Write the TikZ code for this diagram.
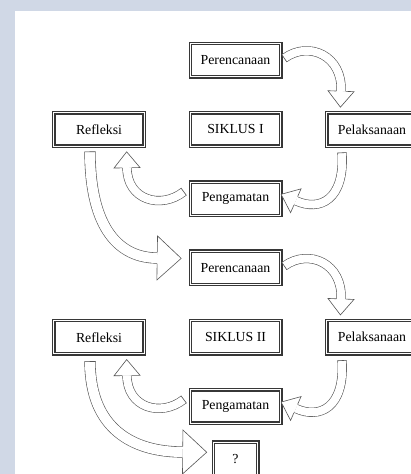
\documentclass[tikz,border=0pt]{standalone}
\usepackage{fontspec}
\setmainfont{Liberation Serif}
\usetikzlibrary{calc}

\definecolor{bgblue}{RGB}{208,216,230}
\definecolor{boxline}{RGB}{55,55,55}
\definecolor{arrline}{RGB}{85,85,85}

% #1 end point, #2 point just before it, #3 half shaft, #4 half head, #5 head length
\newcommand{\flowhead}[5]{%
    \filldraw[fill=white,draw=arrline,line width=0.6pt] ($(#1)!#3!90:(#2)$) -- ($(#1)!#4!90:(#2)$)
        -- ($(#1)!-#5!(#2)$) -- ($(#1)!#4!-90:(#2)$) -- ($(#1)!#3!-90:(#2)$);}
% #1 start point, #2 point just after it, #3 half shaft
\newcommand{\flowtail}[3]{%
    \draw[arrline,line width=0.6pt] ($(#1)!#3!90:(#2)$) -- ($(#1)!#3!-90:(#2)$);}

\begin{document}
\begin{tikzpicture}[x=1pt,y=1pt]
            \tikzset{Box/.style={%
                shape=rectangle,%
                draw=boxline,%
                double,%
                double distance=1.1pt,%
                line width=1.3pt,%
                minimum width=90.3pt,%
                minimum height=33.3pt,%
                inner sep=0pt,%
                font=\fontsize{13.8}{16}\selectfont,%
                node distance=69.25pt,%
            }}
            \tikzset{Flow/.style={%
                draw=arrline,%
                line width=0.6pt,%
                double=white,%
                double distance=8pt,%
            }}
            \tikzset{BigFlow/.style={%
                Flow,%
                double distance=10pt,%
            }}

            % page and background
            \clip (0,0) rectangle (411,474);
            \fill[bgblue] (0,0) rectangle (411,474);
            \fill[white] (15,0) rectangle (411,463);

            % siklus I
            \node[Box] (sik1) at (235.5,344.5) {SIKLUS I};
            \node[Box, above of=sik1] (ren1) {Perencanaan};
            \node[Box, left of=sik1, node distance=136.5pt] (ref1) {Refleksi};
            \node[Box, right of=sik1, node distance=136.5pt] (lak1) {Pelaksanaan};
            \node[Box, below of=sik1] (amt1) {Pengamatan};

            % siklus II
            \node[Box, below of=amt1] (ren2) {Perencanaan};
            \node[Box, below of=ren2] (sik2) {SIKLUS II};
            \node[Box, left of=sik2, node distance=136.5pt] (ref2) {Refleksi};
            \node[Box, right of=sik2, node distance=136.5pt] (lak2) {Pelaksanaan};
            \node[Box, below of=sik2] (amt2) {Pengamatan};
            \node[Box, below of=amt2, node distance=52.5pt, minimum width=44.3pt] (next) {?};

            % arrows of siklus I
            \draw[Flow] ([xshift=3pt,yshift=2pt]ren1.east) .. controls +(25pt,18pt) and +(2pt,35pt) .. ([xshift=-31pt,yshift=21pt]lak1.north)
                coordinate[pos=0] (f1s) coordinate[pos=0.02] (f1t) coordinate[pos=0.98] (f1u) coordinate[pos=1] (f1e);
            \draw[Flow] ([xshift=-30pt,yshift=-6pt]lak1.south) .. controls +(3pt,-47pt) and +(24pt,-11pt) .. ([xshift=14.5pt,yshift=-2pt]amt1.east)
                coordinate[pos=0] (f2s) coordinate[pos=0.02] (f2t) coordinate[pos=0.98] (f2u) coordinate[pos=1] (f2e);
            \draw[Flow] ([xshift=-6pt,yshift=7pt]amt1.west) .. controls +(-23pt,-18pt) and +(0pt,-32pt) .. ([xshift=28pt,yshift=-21pt]ref1.south)
                coordinate[pos=0] (f3s) coordinate[pos=0.02] (f3t) coordinate[pos=0.98] (f3u) coordinate[pos=1] (f3e);
            \draw[BigFlow] ([xshift=-9pt,yshift=-5pt]ref1.south) .. controls +(0pt,-78pt) and +(-37pt,0pt) .. ([xshift=-32.5pt,yshift=10pt]ren2.west)
                coordinate[pos=0] (f4s) coordinate[pos=0.02] (f4t) coordinate[pos=0.98] (f4u) coordinate[pos=1] (f4e);

            % arrows of siklus II
            \draw[Flow] ([xshift=3pt,yshift=2pt]ren2.east) .. controls +(25pt,18pt) and +(2pt,35pt) .. ([xshift=-31pt,yshift=21pt]lak2.north)
                coordinate[pos=0] (f5s) coordinate[pos=0.02] (f5t) coordinate[pos=0.98] (f5u) coordinate[pos=1] (f5e);
            \draw[Flow] ([xshift=-30pt,yshift=-6pt]lak2.south) .. controls +(3pt,-47pt) and +(24pt,-11pt) .. ([xshift=14.5pt,yshift=-2pt]amt2.east)
                coordinate[pos=0] (f6s) coordinate[pos=0.02] (f6t) coordinate[pos=0.98] (f6u) coordinate[pos=1] (f6e);
            \draw[Flow] ([xshift=-6pt,yshift=7pt]amt2.west) .. controls +(-23pt,-18pt) and +(0pt,-32pt) .. ([xshift=28pt,yshift=-21pt]ref2.south)
                coordinate[pos=0] (f7s) coordinate[pos=0.02] (f7t) coordinate[pos=0.98] (f7u) coordinate[pos=1] (f7e);
            \draw[BigFlow] ([xshift=-9pt,yshift=-7pt]ref2.south) .. controls +(0pt,-67pt) and +(-50pt,0pt) .. ([xshift=-30pt,yshift=7pt]next.west)
                coordinate[pos=0] (f8s) coordinate[pos=0.02] (f8t) coordinate[pos=0.98] (f8u) coordinate[pos=1] (f8e);

            % heads and tails
            \foreach \i in {1,2,3,5,6,7} {
                \flowtail{f\i s}{f\i t}{4.6pt}
                \flowhead{f\i e}{f\i u}{4.6pt}{13pt}{16pt}
            }
            \foreach \i in {4,8} {
                \flowtail{f\i s}{f\i t}{5.6pt}
                \flowhead{f\i e}{f\i u}{5.6pt}{22pt}{24pt}
            }
\end{tikzpicture}
\end{document}
